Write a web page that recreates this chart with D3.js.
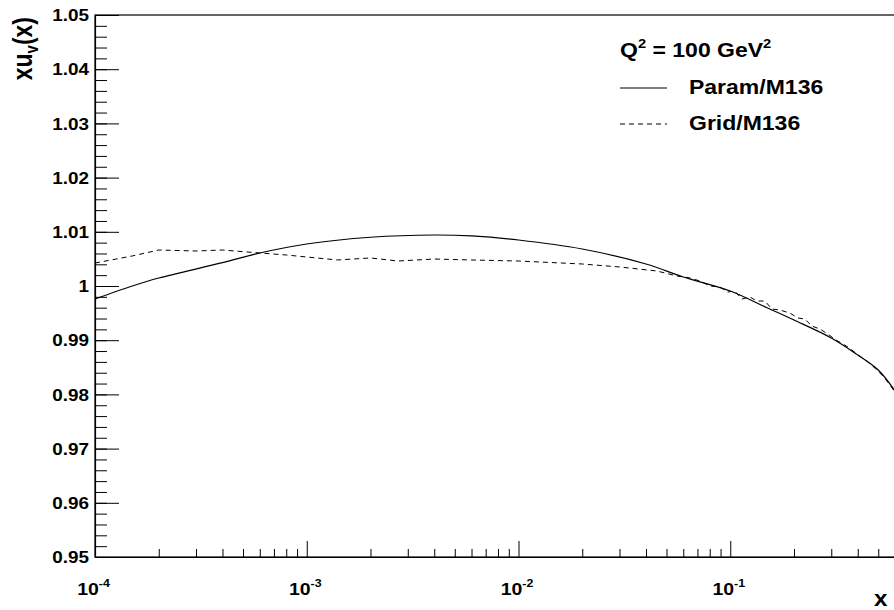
<!DOCTYPE html>
<html>
<head>
<meta charset="utf-8">
<script src="https://cdn.jsdelivr.net/npm/d3@7"></script>
<style>
  body { margin: 0; background: #fff; overflow: hidden; }
  text { font-family: "Liberation Sans", Arial, sans-serif; font-weight: bold; fill: #000; }
</style>
</head>
<body>
<script>
// values
const paramX = [1e-4, 1.5e-4, 2e-4, 4e-4, 6e-4, 1e-3, 2e-3, 4e-3, 6e-3, 1e-2, 2e-2, 4e-2, 6e-2,
                0.1, 0.15, 0.2, 0.3, 0.4, 0.5, 0.6, 0.7];
const paramY = [0.9976, 1.0000, 1.00148, 1.0043, 1.00609, 1.00775, 1.00899, 1.00941, 1.00923, 1.00849,
                1.00683, 1.00406, 1.00166, 0.99908, 0.99594, 0.99373, 0.99041, 0.98727, 0.9845, 0.9806, 0.976];

const gridX = [1e-4, 1.5e-4, 2e-4, 3e-4, 4e-4, 6e-4, 8e-4, 1e-3, 1.4e-3, 2e-3, 2.7e-3, 4e-3, 6e-3,
               1e-2, 2e-2, 3e-2, 4.5e-2, 5.6e-2,
               0.0645, 0.0719, 0.0801, 0.0893, 0.0974, 0.1051, 0.1134, 0.1238, 0.1335, 0.1457,
               0.1572, 0.1715, 0.1911, 0.2085, 0.225, 0.2428, 0.2649, 0.2889, 0.3152, 0.3476,
               0.3751, 0.4091, 0.4464, 0.487, 0.5313, 0.5858, 0.667];
const gridY = [1.00424, 1.00554, 1.00664, 1.00646, 1.00664, 1.00609, 1.00572, 1.00535, 1.0048, 1.00517,
               1.00461, 1.00498, 1.0048, 1.00461, 1.00406, 1.00351, 1.00277, 1.00185,
               1.00148, 1.00092, 1.0, 0.99982, 0.99889, 0.99908, 0.9976, 0.99797, 0.99723, 0.99723,
               0.99576, 0.99557, 0.99502, 0.9941, 0.99391, 0.99262, 0.99207, 0.99114, 0.99004, 0.98911,
               0.98819, 0.98708, 0.98598, 0.98469, 0.98321, 0.981, 0.97768];

const xDecades = [1e-4, 1e-3, 1e-2, 1e-1, 1];
const yMajor = d3.range(0, 11).map(i => +(0.95 + i * 0.01).toFixed(2));
const yMinor = d3.range(0, 51).map(i => +(0.95 + i * 0.002).toFixed(3));

const legendTitle = ["Q", "2", " = 100 GeV", "2"];
const legendItems = [
    { label: "Param/M136", dash: null },
    { label: "Grid/M136", dash: "5,4" }
];

const W = 894, H = 610;
const margin = { left: 95, top: 15, bottom: 557, right: 942 };
const sx = 1.18; // the text in the picture is a bit stretched sideways

const svg = d3.select("body").append("svg")
    .attr("width", W)
    .attr("height", H);

const x = d3.scaleLog().domain([1e-4, 1]).range([margin.left, margin.right]);
const y = d3.scaleLinear().domain([0.95, 1.05]).range([margin.bottom, margin.top]);

// x minor ticks 2..9 per decade
let xMinor = [];
xDecades.slice(0, -1).forEach(d => {
    for (let k = 2; k <= 9; k++) xMinor.push(d * k);
});

// frame
svg.append("rect")
    .attr("x", x.range()[0])
    .attr("y", y.range()[1])
    .attr("width", x.range()[1] - x.range()[0])
    .attr("height", y.range()[0] - y.range()[1])
    .attr("fill", "none")
    .attr("stroke", "#000")
    .attr("stroke-width", 1.2);

// y axis
svg.append("g").attr("transform", `translate(${margin.left},0)`)
    .call(d3.axisLeft(y).tickValues(yMinor).tickSizeInner(-12).tickSizeOuter(0).tickFormat(() => ""))
    .call(g => g.selectAll("line").attr("stroke", "#000"));

let gy = svg.append("g").attr("transform", `translate(${margin.left},0)`);
gy.call(d3.axisLeft(y).tickValues(yMajor).tickSizeInner(-24).tickSizeOuter(0).tickPadding(6)
    .tickFormat(d => String(+d.toFixed(2))));
gy.selectAll(".domain").attr("stroke-width", 1.2);
gy.selectAll("line").attr("stroke", "#000");
gy.selectAll("text")
    .attr("font-size", 16)
    .attr("font-family", null)
    .attr("x", -6 / sx)
    .attr("dy", "0.36em")
    .attr("transform", `scale(${sx},1)`);

// x axis
svg.append("g").attr("transform", `translate(0,${margin.bottom})`)
    .call(d3.axisBottom(x).tickValues(xMinor).tickSizeInner(-8).tickSizeOuter(0).tickFormat(() => ""))
    .call(g => g.selectAll("line").attr("stroke", "#000"));

let gx = svg.append("g").attr("transform", `translate(0,${margin.bottom})`);
gx.call(d3.axisBottom(x).tickValues(xDecades).tickSizeInner(-16).tickSizeOuter(0).tickFormat(() => ""));
gx.selectAll(".domain").attr("stroke-width", 1.2);
gx.selectAll("line").attr("stroke", "#000");
gx.selectAll(".tick").each(function (d) {
    let t = d3.select(this).select("text");
    if (d >= 1) { t.remove(); return; } // 10^0 sits outside the picture
    t.attr("y", null).attr("dy", null)
        .attr("font-size", 16.5)
        .attr("font-family", null)
        .attr("text-anchor", "middle")
        .attr("transform", `translate(-2,38) scale(${sx},1)`);
    t.append("tspan").text("10");
    t.append("tspan").attr("font-size", 10.5).attr("dy", -8).text(Math.round(Math.log10(d)));
});

// clip to plot area
svg.append("clipPath").attr("id", "plot")
    .append("rect")
    .attr("x", x.range()[0])
    .attr("y", y.range()[1])
    .attr("width", x.range()[1] - x.range()[0])
    .attr("height", y.range()[0] - y.range()[1]);

const line = d3.line().x(d => x(d[0])).y(d => y(d[1]));

svg.append("path")
    .attr("clip-path", "url(#plot)")
    .attr("d", line.curve(d3.curveCatmullRom)(d3.zip(paramX, paramY)))
    .attr("fill", "none")
    .attr("stroke", "#000")
    .attr("stroke-width", 1.2);

svg.append("path")
    .attr("clip-path", "url(#plot)")
    .attr("d", line.curve(d3.curveLinear)(d3.zip(gridX, gridY)))
    .attr("fill", "none")
    .attr("stroke", "#000")
    .attr("stroke-width", 1)
    .attr("stroke-dasharray", "5,4");

// axis titles
svg.append("text")
    .attr("transform", `translate(32,17) scale(${sx},1) rotate(-90)`)
    .attr("text-anchor", "end")
    .attr("font-size", 23)
    .call(t => {
        t.append("tspan").text("xu");
        t.append("tspan").attr("font-size", 15).attr("dy", 5).text("v");
        t.append("tspan").attr("dy", -5).text("(x)");
    });

svg.append("text")
    .attr("transform", `translate(874,606) scale(1.1,1)`)
    .attr("font-size", 22)
    .text("x");

// legend
let lg = svg.append("g");
lg.append("text")
    .attr("transform", `translate(620,57) scale(${sx},1)`)
    .attr("font-size", 19.5)
    .call(t => {
        legendTitle.forEach((s, i) => {
            let sp = t.append("tspan").text(s);
            if (s === "2") sp.attr("font-size", 12.5).attr("dy", -9);
            else if (i > 0) sp.attr("dy", 9);
        });
    });

legendItems.forEach((it, i) => {
    let yy = 88 + i * 36;
    lg.append("line")
        .attr("x1", 620).attr("x2", 667)
        .attr("y1", yy).attr("y2", yy)
        .attr("stroke", "#000")
        .attr("stroke-width", 1)
        .attr("stroke-dasharray", it.dash);
    lg.append("text")
        .attr("transform", `translate(689,${yy + 6}) scale(${sx},1)`)
        .attr("font-size", 19.5)
        .text(it.label);
});
</script>
</body>
</html>
